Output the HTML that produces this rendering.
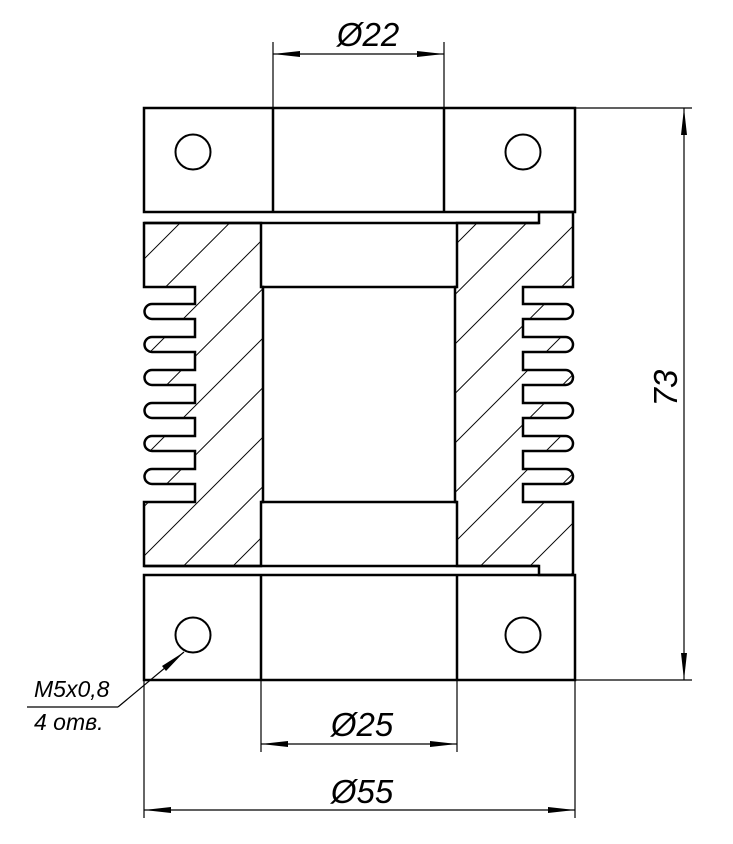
<!DOCTYPE html>
<html><head><meta charset="utf-8"><style>html,body{margin:0;padding:0;background:#fff}svg{display:block}text{font-family:"Liberation Sans","DejaVu Sans",sans-serif;font-style:italic;fill:#000}</style></head>
<body>
<svg width="733" height="844" viewBox="0 0 733 844" xmlns="http://www.w3.org/2000/svg">
<defs>
<pattern id="h" patternUnits="userSpaceOnUse" width="35" height="35" patternTransform="rotate(45)">
<line x1="5" y1="-1" x2="5" y2="36" stroke="#000" stroke-width="1"/>
</pattern>
</defs>
<g fill="none" stroke="#000">
<rect x="144" y="108" width="431" height="104" stroke-width="2.5"/>
<line x1="273" y1="108" x2="273" y2="212" stroke-width="2.5"/>
<line x1="444" y1="108" x2="444" y2="212" stroke-width="2.5"/>
<circle cx="193" cy="152" r="17.5" stroke-width="2"/>
<circle cx="523" cy="152" r="17.5" stroke-width="2"/>
<rect x="144" y="575" width="431" height="105" stroke-width="2.5"/>
<line x1="261" y1="575" x2="261" y2="680" stroke-width="2.5"/>
<line x1="457" y1="575" x2="457" y2="680" stroke-width="2.5"/>
<circle cx="193" cy="635" r="17.5" stroke-width="2"/>
<circle cx="523" cy="635" r="17.5" stroke-width="2"/>
<path fill="url(#h)" stroke-width="2.5" d="M144,223 H261 V287 H263 V502 H261 V566 H144 V502 H195 V484 H152 A7.5,7.5 0 0 1 152,469 H195 V451 H152 A7.5,7.5 0 0 1 152,436 H195 V418 H152 A7.5,7.5 0 0 1 152,403 H195 V385 H152 A7.5,7.5 0 0 1 152,370 H195 V352 H152 A7.5,7.5 0 0 1 152,337 H195 V319 H152 A7.5,7.5 0 0 1 152,304 H195 V287 H144 Z"/>
<path fill="url(#h)" stroke-width="2.5" d="M457,223 H539 V212 H573 V287 H523 V304 H565.5 A7.5,7.5 0 0 1 565.5,319 H523 V337 H565.5 A7.5,7.5 0 0 1 565.5,352 H523 V370 H565.5 A7.5,7.5 0 0 1 565.5,385 H523 V403 H565.5 A7.5,7.5 0 0 1 565.5,418 H523 V436 H565.5 A7.5,7.5 0 0 1 565.5,451 H523 V469 H565.5 A7.5,7.5 0 0 1 565.5,484 H523 V502 H573 V575 H539 V566 H457 V502 H455 V287 H457 Z"/>
<line x1="144" y1="223" x2="539" y2="223" stroke-width="2.5"/>
<line x1="144" y1="566" x2="539" y2="566" stroke-width="2.5"/>
<line x1="261" y1="287" x2="457" y2="287" stroke-width="2.5"/>
<line x1="261" y1="502" x2="457" y2="502" stroke-width="2.5"/>
<g stroke-width="1.2">
<line x1="273" y1="42" x2="273" y2="108"/>
<line x1="444" y1="42" x2="444" y2="108"/>
<line x1="273" y1="54" x2="444" y2="54"/>
<line x1="575" y1="108" x2="692" y2="108"/>
<line x1="575" y1="680" x2="692" y2="680"/>
<line x1="684" y1="108" x2="684" y2="680"/>
<line x1="261" y1="680" x2="261" y2="752"/>
<line x1="457" y1="680" x2="457" y2="752"/>
<line x1="261" y1="744" x2="457" y2="744"/>
<line x1="144" y1="680" x2="144" y2="818"/>
<line x1="575" y1="680" x2="575" y2="818"/>
<line x1="144" y1="810" x2="575" y2="810"/>
<line x1="27" y1="707" x2="118" y2="707"/>
<line x1="118" y1="707" x2="184" y2="652"/>
</g>
</g>
<g fill="#000">
<polygon points="273,54 300,51 300,57"/>
<polygon points="444,54 417,51 417,57"/>
<polygon points="261,744 288,741 288,747"/>
<polygon points="457,744 430,741 430,747"/>
<polygon points="144,810 171,807 171,813"/>
<polygon points="575,810 548,807 548,813"/>
<polygon points="684,108 681,135 687,135"/>
<polygon points="684,680 681,653 687,653"/>
<polygon points="184,652 162,666 166,671"/>
</g>
<text x="368" y="46" font-size="33" text-anchor="middle">Ø22</text>
<text x="362" y="736" font-size="33" text-anchor="middle">Ø25</text>
<text x="362" y="803" font-size="33" text-anchor="middle">Ø55</text>
<text transform="translate(677,388) rotate(-90)" font-size="33" text-anchor="middle">73</text>
<text x="34" y="697" font-size="23">M5x0,8</text>
<text x="34" y="730" font-size="23">4 отв.</text>
</svg>
</body></html>
